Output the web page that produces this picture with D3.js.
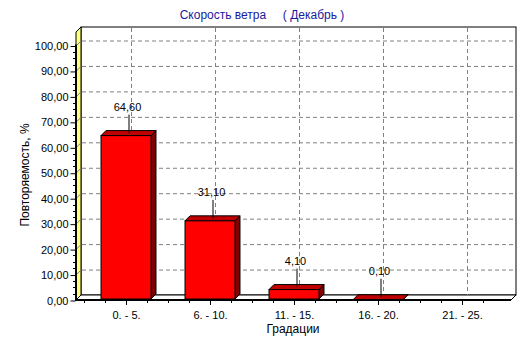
<!DOCTYPE html>
<html>
<head>
<meta charset="utf-8">
<script src="https://cdn.jsdelivr.net/npm/d3@7"></script>
<style>
  body { margin: 0; background: #fff; }
  svg { display: block; font-family: "Liberation Sans", Arial, sans-serif; }
</style>
</head>
<body>
<div id="chart"></div>
<script>
// Data
var categories = ["0. - 5.", "6. - 10.", "11. - 15.", "16. - 20.", "21. - 25."];
var values     = [64.6, 31.1, 4.1, 0.1, null];
var yTicks     = [0, 10, 20, 30, 40, 50, 60, 70, 80, 90, 100];

var width = 532, height = 343;
var depth = 5;                       // 3D depth offset
var left = 76, right = 511, bottom = 300, wallTop = 27;

var svg = d3.select("#chart").append("svg")
  .attr("width", width)
  .attr("height", height);

// Scales
var x = d3.scaleBand()
  .domain(categories)
  .range([84, 504]);

var y = d3.scaleLinear()
  .domain([0, 100])
  .range([bottom, 45.5]);

var barW = x.bandwidth() * 0.595;
var fmt = function(v){ return d3.format(".2f")(v).replace(".", ","); };

// Back wall
svg.append("rect")
  .attr("x", left + depth).attr("y", wallTop)
  .attr("width", right - left).attr("height", bottom - depth - wallTop)
  .attr("fill", "#fff").attr("stroke", "#000").attr("stroke-width", 1);

// Left wall (yellow)
svg.append("polygon")
  .attr("points", [[left, wallTop + depth], [left + depth, wallTop], [left + depth, bottom - depth], [left, bottom]].join(" "))
  .attr("fill", "#ffff80").attr("stroke", "#000").attr("stroke-width", 1);

// Floor
svg.append("polygon")
  .attr("points", [[left, bottom], [left + depth, bottom - depth], [right + depth, bottom - depth], [right, bottom]].join(" "))
  .attr("fill", "#fff").attr("stroke", "#000").attr("stroke-width", 1);

// Grid lines on back wall
var grid = svg.append("g")
  .attr("stroke", "#808080")
  .attr("stroke-dasharray", "4,3")
  .attr("fill", "none");

grid.selectAll(".hgrid")
  .data(yTicks)
  .enter().append("line")
  .attr("x1", left + depth + 1).attr("x2", right + depth - 1)
  .attr("y1", function(d){ return y(d) - depth + 0.5; })
  .attr("y2", function(d){ return y(d) - depth + 0.5; });

grid.selectAll(".vgrid")
  .data(categories)
  .enter().append("line")
  .attr("x1", function(d){ return x(d) + x.bandwidth() / 2 + depth + 0.5; })
  .attr("x2", function(d){ return x(d) + x.bandwidth() / 2 + depth + 0.5; })
  .attr("y1", wallTop + 1).attr("y2", bottom - depth);

// grid on the left wall
svg.append("g").attr("stroke", "#808080")
  .selectAll("line")
  .data(yTicks.slice(1))
  .enter().append("line")
  .attr("x1", left).attr("x2", left + depth)
  .attr("y1", function(d){ return y(d) + 0.5; })
  .attr("y2", function(d){ return y(d) - depth + 0.5; });

// Bars
var bars = svg.append("g").selectAll("g")
  .data(categories.map(function(c, i){ return {cat: c, value: values[i]}; })
    .filter(function(d){ return d.value != null; }))
  .enter().append("g");

bars.each(function(d){
  var g = d3.select(this);
  var x0 = x(d.cat) + (x.bandwidth() - barW) / 2;
  var x1 = x0 + barW;
  var yt = y(d.value), yb = y(0) - 1;
  // side face
  g.append("polygon")
    .attr("points", [[x1, yt], [x1 + depth, yt - depth], [x1 + depth, yb - depth], [x1, yb]].join(" "))
    .attr("fill", "#800000").attr("stroke", "#000");
  // top face
  g.append("polygon")
    .attr("points", [[x0, yt], [x0 + depth, yt - depth], [x1 + depth, yt - depth], [x1, yt]].join(" "))
    .attr("fill", "#c00000").attr("stroke", "#000");
  // front face
  g.append("rect")
    .attr("x", x0).attr("y", yt)
    .attr("width", barW).attr("height", Math.max(0, yb - yt))
    .attr("fill", "#ff0000").attr("stroke", "#000");
  // mark line
  var cx = (x0 + x1) / 2 + depth / 2;
  g.append("line")
    .attr("x1", cx + 0.5).attr("x2", cx + 0.5)
    .attr("y1", yt - depth / 2).attr("y2", yt - 21)
    .attr("stroke", "#000");
  g.append("text")
    .attr("x", cx - 1).attr("y", yt - 25)
    .attr("text-anchor", "middle")
    .attr("font-size", "11px")
    .text(fmt(d.value));
});

// Axes lines (thick)
svg.append("line")
  .attr("x1", left).attr("x2", left)
  .attr("y1", y(100) - 1).attr("y2", bottom + 1)
  .attr("stroke", "#000").attr("stroke-width", 2);
svg.append("line")
  .attr("x1", left).attr("x2", right)
  .attr("y1", bottom).attr("y2", bottom)
  .attr("stroke", "#000").attr("stroke-width", 2);

// Y axis ticks
var yAxis = d3.axisLeft(y)
  .tickValues(yTicks)
  .tickSize(5)
  .tickPadding(2)
  .tickFormat(fmt);
svg.append("g")
  .attr("transform", "translate(" + (left - 0.5) + ",0.5)")
  .call(yAxis)
  .call(function(g){ g.select(".domain").remove(); })
  .call(function(g){ g.selectAll("text").attr("font-size", "11px").attr("font-family", "Liberation Sans, Arial, sans-serif").attr("fill", "#000"); });

// Y minor ticks
var yMinor = d3.range(0, 100, 2.5).filter(function(v){ return v % 10 !== 0; });
svg.append("g").attr("stroke", "#000")
  .selectAll("line").data(yMinor).enter().append("line")
  .attr("x1", left - 3).attr("x2", left)
  .attr("y1", function(d){ return Math.round(y(d)) + 0.5; })
  .attr("y2", function(d){ return Math.round(y(d)) + 0.5; });

// X axis ticks
var xAxis = d3.axisBottom(x)
  .tickSize(4)
  .tickPadding(6);
svg.append("g")
  .attr("transform", "translate(0.5," + (bottom + 1) + ")")
  .call(xAxis)
  .call(function(g){ g.select(".domain").remove(); })
  .call(function(g){ g.selectAll("text").attr("font-size", "11px").attr("font-family", "Liberation Sans, Arial, sans-serif").attr("fill", "#000"); });

// X minor ticks
var xMinor = [];
categories.forEach(function(c){
  var cx = x(c) + x.bandwidth() / 2;
  [-2, -1, 1].forEach(function(k){ xMinor.push(cx + k * x.bandwidth() / 4); });
});
xMinor.push(x(categories[4]) + x.bandwidth() * 0.75);
svg.append("g").attr("stroke", "#000")
  .selectAll("line").data(xMinor).enter().append("line")
  .attr("x1", function(d){ return Math.round(d) + 0.5; })
  .attr("x2", function(d){ return Math.round(d) + 0.5; })
  .attr("y1", bottom + 1).attr("y2", bottom + 3);

// Titles
svg.append("text")
  .attr("x", 262).attr("y", 19)
  .attr("text-anchor", "middle")
  .attr("font-size", "12px")
  .attr("fill", "#1a1a9c")
  .style("white-space", "pre")
  .text("Скорость ветра     ( Декабрь )");

svg.append("text")
  .attr("x", 293).attr("y", 333)
  .attr("text-anchor", "middle")
  .attr("font-size", "12px")
  .text("Градации");

svg.append("text")
  .attr("transform", "translate(29,175)rotate(-90)")
  .attr("text-anchor", "middle")
  .attr("font-size", "12px")
  .text("Повторяемость, %");
</script>
</body>
</html>
